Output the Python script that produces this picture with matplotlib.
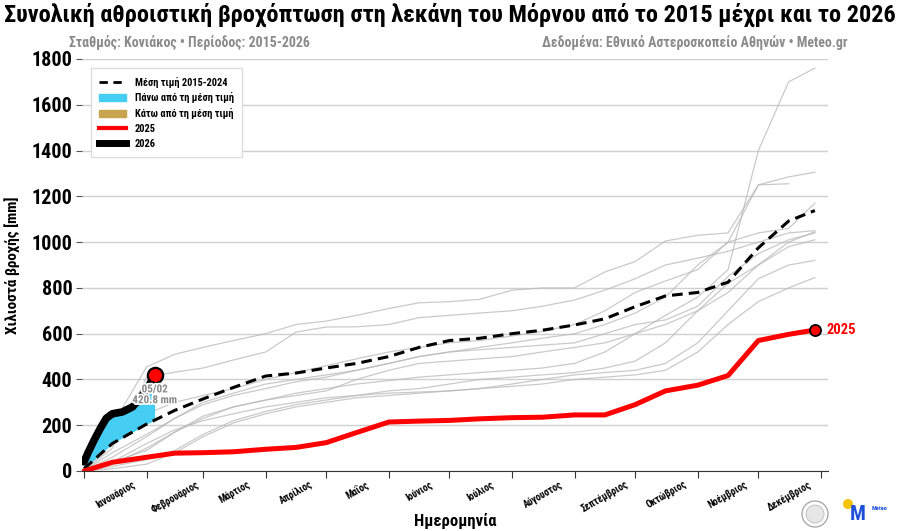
# Cumulative rainfall chart, Mornos basin (Koniakos station)

import numpy as np
import matplotlib.pyplot as plt
import matplotlib.patheffects as pe
from matplotlib.lines import Line2D
from matplotlib.patches import Patch, Ellipse

plt.rcParams['font.family'] = ['Roboto Condensed', 'Liberation Sans Narrow', 'Roboto', 'DejaVu Sans']
plt.rcParams['font.weight'] = 'bold'

# ---- data (day of year -> cumulative mm) ----
days = [1, 15, 32, 46, 60, 75, 91, 106, 121, 136, 152, 167, 182,
        197, 213, 228, 244, 259, 274, 289, 305, 320, 335, 350, 363]

years_2015_2024 = [
    [0, 40, 90, 170, 240, 280, 310, 340, 360, 380, 395, 410, 420, 430, 440, 450, 470, 520, 600, 680, 760, 880, 1400, 1700, 1760],
    [0, 120, 250, 300, 330, 360, 400, 430, 460, 490, 520, 540, 560, 570, 590, 610, 640, 700, 780, 830, 880, 1000, 1250, 1285, 1305],
    [0, 200, 455, 510, 540, 570, 600, 640, 655, 680, 710, 735, 740, 750, 790, 800, 800, 870, 915, 1005, 1030, 1040, 1250, 1255, np.nan],
    [0, 80, 160, 230, 290, 330, 360, 390, 410, 440, 470, 500, 520, 540, 560, 580, 600, 640, 690, 760, 900, 1000, 1040, 1060, 1170],
    [0, 100, 410, 432, 450, 485, 520, 607, 629, 630, 640, 670, 680, 690, 700, 720, 747, 790, 840, 900, 930, 960, 1000, 1040, 1050],
    [0, 30, 100, 170, 230, 280, 310, 330, 350, 400, 440, 470, 480, 490, 500, 520, 540, 560, 600, 640, 700, 780, 900, 1000, 1045],
    [0, 60, 150, 230, 300, 340, 380, 400, 420, 440, 470, 500, 520, 530, 540, 550, 560, 600, 640, 660, 720, 850, 950, 1010, 1040],
    [0, 20, 50, 90, 160, 220, 260, 290, 310, 330, 350, 360, 380, 400, 410, 420, 430, 450, 480, 560, 700, 820, 900, 980, 1010],
    [0, 10, 30, 80, 150, 210, 250, 280, 300, 320, 330, 340, 350, 360, 380, 400, 420, 430, 440, 470, 560, 700, 840, 900, 920],
    [0, 40, 120, 180, 220, 250, 280, 300, 320, 330, 340, 345, 350, 360, 370, 380, 400, 410, 420, 440, 520, 640, 740, 800, 845],
]

mean_2015_2024 = [10, 120, 205, 265, 315, 365, 415, 428, 450, 470, 500, 540, 570,
                  580, 600, 615, 638, 665, 718, 765, 780, 825, 975, 1092, 1138]

rain_2025 = [0, 38, 60, 78, 80, 84, 95, 103, 124, 168, 214, 218, 221,
             228, 233, 235, 245, 245, 290, 350, 375, 417, 570, 597, 616]

days_2026 = [1, 3, 6, 9, 12, 15, 20, 25, 28, 30, 33, 36]
rain_2026 = [40, 80, 135, 185, 230, 250, 258, 280, 310, 332, 370, 420.8]

month_starts = [1, 32, 60, 91, 121, 152, 182, 213, 244, 274, 305, 335, 366]
month_names = ['Ιανουάριος', 'Φεβρουάριος', 'Μάρτιος', 'Απρίλιος', 'Μαΐος', 'Ιούνιος',
               'Ιούλιος', 'Αύγουστος', 'Σεπτέμβριος', 'Οκτώβριος', 'Νοέμβριος', 'Δεκέμβριος']

CYAN = '#45CDF3'
GOLD = '#C8A44E'

fig = plt.figure(figsize=(9, 5.31), dpi=100)
ax = fig.add_axes([82/900, 60/531, 746/900, 412/531])

# individual years
for vals in years_2015_2024:
    ax.plot(days, vals, color='#b8b8b8', lw=0.9, alpha=0.75, zorder=2)

# mean
ax.plot(days, mean_2015_2024, color='black', lw=2.2, ls=(0, (3.5, 2)), zorder=4)

# above / below mean fill for 2026
mean_at_2026 = np.interp(days_2026, days, mean_2015_2024)
r26 = np.array(rain_2026)
ax.fill_between(days_2026, mean_at_2026, r26, where=r26 >= mean_at_2026,
                color=CYAN, lw=0, zorder=3, interpolate=True)
ax.fill_between(days_2026, mean_at_2026, r26, where=r26 < mean_at_2026,
                color=GOLD, lw=0, zorder=3, interpolate=True)

# 2025
ax.plot(days, rain_2025, color='#ff0000', lw=3.6, zorder=5, solid_capstyle='round')
ax.plot(days[-1], rain_2025[-1], 'o', ms=8, mfc='#ff0000', mec='black', mew=1.3, zorder=6)
ax.text(days[-1] + 6, rain_2025[-1], '2025', color='#ff0000', fontsize=10.5,
        fontweight='bold', va='center', ha='left')

# 2026
ax.plot(days_2026, rain_2026, color='black', lw=5.5, zorder=6, solid_capstyle='round')
ax.plot(days_2026[-1], rain_2026[-1], 'o', ms=11, mfc='#ff0000', mec='black', mew=1.6, zorder=7)
ax.annotate('05/02\n420.8 mm', (days_2026[-1], rain_2026[-1]), xytext=(0, -7),
            textcoords='offset points', ha='center', va='top', fontsize=8,
            fontweight='bold', color='#888888', linespacing=1.1, zorder=8,
            path_effects=[pe.withStroke(linewidth=2.5, foreground='white')])

# axes styling
ax.set_xlim(0, 369.5)
ax.set_ylim(0, 1800)
ax.set_yticks(range(0, 1801, 200))
ax.tick_params(axis='y', labelsize=14.5, length=4, width=0.8, color='#555555', pad=3)
for lab in ax.get_yticklabels():
    lab.set_fontweight('bold')
ax.grid(axis='y', color='#d0d0d0', lw=1)
ax.set_axisbelow(True)
for s in ['top', 'right', 'left']:
    ax.spines[s].set_visible(False)
ax.spines['bottom'].set_color('#333333')

ax.set_xticks(month_starts)
ax.set_xticklabels([])
ax.tick_params(axis='x', which='major', length=5, color='#333333')
mids = [(month_starts[i] + month_starts[i + 1]) / 2 for i in range(12)]
ax.set_xticks(mids, minor=True)
ax.set_xticklabels(month_names, minor=True, rotation=30, fontsize=7, fontweight='bold')
ax.tick_params(axis='x', which='minor', length=0, pad=6)

fig.text(455/900, 1 - 521/531, 'Ημερομηνία', ha='center', va='center',
         fontsize=12, fontweight='bold')
ax.set_ylabel('Χιλιοστά βροχής [mm]', fontsize=11, fontweight='bold', labelpad=8)

# legend
handles = [
    Line2D([], [], color='black', lw=2, ls=(0, (3, 2))),
    Patch(color=CYAN),
    Patch(color=GOLD),
    Line2D([], [], color='#ff0000', lw=3),
    Line2D([], [], color='black', lw=5),
]
labels = ['Μέση τιμή 2015-2024', 'Πάνω από τη μέση τιμή', 'Κάτω από τη μέση τιμή', '2025', '2026']
ax.legend(handles, labels, loc='upper left', bbox_to_anchor=(0.005, 0.99),
          prop={'size': 7.5, 'weight': 'bold'}, fancybox=False,
          edgecolor='#dddddd', framealpha=1, handlelength=2.6, borderpad=0.8,
          labelspacing=0.45)

# titles
fig.text(0.5, 1 - 15/531, 'Συνολική αθροιστική βροχόπτωση στη λεκάνη του Μόρνου από το 2015 μέχρι και το 2026',
         ha='center', va='center', fontsize=17.5, fontweight='bold')
fig.text(69/900, 1 - 43/531, 'Σταθμός: Κονιάκος • Περίοδος: 2015-2026',
         ha='left', va='center', fontsize=10, fontweight='bold', color='#8a8a8a')
fig.text(848/900, 1 - 43/531, 'Δεδομένα: Εθνικό Αστεροσκοπείο Αθηνών • Meteo.gr',
         ha='right', va='center', fontsize=10, fontweight='bold', color='#8a8a8a')

# small logo marks (seal + meteo)
fig.patches.append(Ellipse((815/900, 1 - 514/531), 26/900, 26/531, transform=fig.transFigure,
                           facecolor='white', edgecolor='#aaaaaa', lw=1))
fig.patches.append(Ellipse((815/900, 1 - 514/531), 18/900, 18/531, transform=fig.transFigure,
                           facecolor='#e6e6e6', edgecolor='#bbbbbb', lw=0.6))
fig.patches.append(Ellipse((848/900, 1 - 504/531), 10/900, 10/531, transform=fig.transFigure,
                           facecolor='#f5c400', edgecolor='none'))
fig.text(858/900, 1 - 514/531, 'M', ha='center', va='center', fontsize=15,
         fontweight='bold', color='#1d4fd8')
fig.text(872/900, 1 - 508/531, 'Meteo', ha='left', va='center', fontsize=4.5, color='#1d4fd8')

fig.savefig('out.png', dpi=100)
